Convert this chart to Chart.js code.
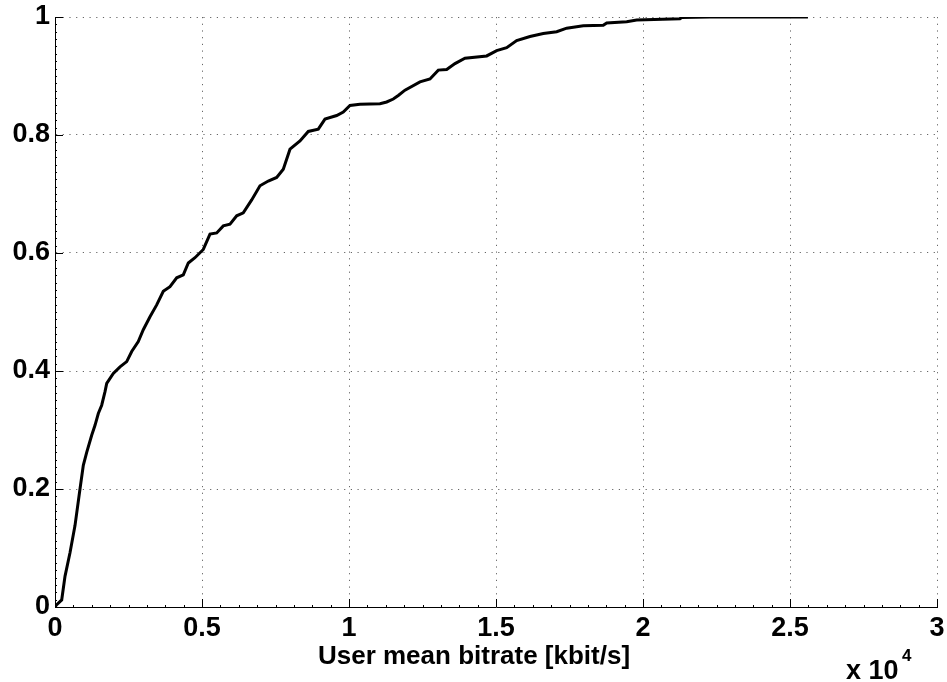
<!DOCTYPE html>
<html>
<head>
<meta charset="utf-8">
<title>User mean bitrate CDF</title>
<script src="https://cdn.jsdelivr.net/npm/chart.js@4/dist/chart.umd.min.js"></script>
<style>
  body { margin: 0; background: #fff; }
  #wrap { width: 947px; height: 682px; }
</style>
</head>
<body>
<div id="wrap"><canvas id="myChart" width="947" height="682"></canvas></div>
<script>
const bitrate = [0, 58, 228, 340, 510, 680, 850, 963, 1078, 1248, 1361, 1473, 1588, 1701, 1759,
    1983, 2211, 2439, 2609, 2833, 3003, 3231, 3459, 3683, 3911, 4139, 4364, 4534, 4761, 5044,
    5272, 5500, 5724, 5952, 6180, 6404, 6690, 6972, 7254, 7540, 7765, 7993, 8333, 8615, 8955,
    9183, 9581, 9805, 10033, 10373, 11053, 11281, 11506, 11676, 11904, 12414, 12755, 13037,
    13323, 13605, 13945, 14683, 15023, 15363, 15703, 16156, 16608, 17064, 17404, 17969, 18649,
    18765, 19445, 19785, 21258, 21316, 22277, 25610];
const cdf = [0, 0.004, 0.012, 0.052, 0.092, 0.138, 0.2, 0.24, 0.262, 0.291, 0.308, 0.328, 0.342, 0.365, 0.379,
    0.396, 0.407, 0.416, 0.433, 0.45, 0.47, 0.492, 0.512, 0.535, 0.543, 0.558, 0.563, 0.583, 0.592, 0.606,
    0.632, 0.634, 0.646, 0.649, 0.663, 0.668, 0.69, 0.714, 0.722, 0.728, 0.742, 0.776, 0.79, 0.806, 0.81,
    0.827, 0.833, 0.839, 0.85, 0.852, 0.853, 0.856, 0.861, 0.867, 0.876, 0.89, 0.895, 0.91,
    0.911, 0.921, 0.93, 0.934, 0.943, 0.948, 0.96, 0.967, 0.972, 0.975, 0.981, 0.985, 0.986,
    0.99, 0.992, 0.995, 0.997, 0.999, 1.0, 1.0];

const xTickLabels = ['0', '0.5', '1', '1.5', '2', '2.5', '3'];
const yTickLabels = ['0', '0.2', '0.4', '0.6', '0.8', '1'];
const xTitle = 'User mean bitrate [kbit/s]';

const FONT = '"Liberation Sans", Arial, Helvetica, sans-serif';

// inward major/minor ticks like matlab, the axis label and the "x 10^4" multiplier
const axisDecor = {
    id: 'axisDecor',
    afterDraw(chart) {
        const ctx = chart.ctx;
        const a = chart.chartArea;
        const xs = chart.scales.x, ys = chart.scales.y;
        ctx.save();
        ctx.strokeStyle = '#000';
        ctx.lineWidth = 1;
        ctx.beginPath();
        for (let v = 0; v <= 30000; v += 625) {
            const px = Math.round(xs.getPixelForValue(v)) + 0.5;
            const len = v % 5000 === 0 ? 8 : 2;
            ctx.moveTo(px, a.bottom);
            ctx.lineTo(px, a.bottom - len);
        }
        for (let i = 0; i <= 80; i++) {
            const v = i * 0.0125;
            const py = Math.round(ys.getPixelForValue(v)) + 0.5;
            const len = i % 16 === 0 ? 8 : 2;
            ctx.moveTo(a.left, py);
            ctx.lineTo(a.left + len, py);
        }
        ctx.stroke();

        ctx.fillStyle = '#000';
        ctx.textAlign = 'center';
        ctx.textBaseline = 'middle';
        ctx.font = 'bold 26px ' + FONT;
        ctx.fillText(xTitle, 474, 657);

        ctx.textAlign = 'left';
        ctx.textBaseline = 'alphabetic';
        ctx.font = 'bold 27px ' + FONT;
        ctx.fillText('x 10', 846, 679);
        ctx.font = 'bold 17px ' + FONT;
        ctx.fillText('4', 902, 661);
        ctx.restore();
    }
};

let myChart;
function chart() {
    var ctx = document.getElementById('myChart');
    if (myChart) {
        myChart.destroy();
    }
    myChart = new Chart(ctx, {
        type: 'scatter',
        data: {
            datasets: [{
                label: 'CDF',
                data: bitrate.map((b, i) => ({x: b, y: cdf[i]})),
                showLine: true,
                borderColor: '#000',
                borderWidth: 3,
                pointRadius: 0,
                tension: 0,
                fill: false
            }]
        },
        options: {
            responsive: false,
            animation: false,
            devicePixelRatio: 1,
            layout: {padding: {left: 0, right: 10, top: 17, bottom: 0}},
            plugins: {
                legend: {display: false},
                tooltip: {enabled: false}
            },
            scales: {
                x: {
                    type: 'linear',
                    min: 0,
                    max: 30000,
                    afterBuildTicks: (s) => { s.ticks = xTickLabels.map((t, i) => ({value: i * 5000})); },
                    afterFit: (s) => { s.height = 75; s.paddingLeft = 0; s.paddingRight = 0; },
                    ticks: {
                        callback: (v, i) => xTickLabels[i],
                        color: '#000',
                        font: {family: FONT, size: 27, weight: 'bold'},
                        padding: 5,
                        maxRotation: 0
                    },
                    grid: {color: '#666', lineWidth: 1, drawTicks: false},
                    border: {display: true, color: '#000', width: 1, dash: [1.2, 5.5]}
                },
                y: {
                    type: 'linear',
                    min: 0,
                    max: 1,
                    afterBuildTicks: (s) => { s.ticks = yTickLabels.map((t, i) => ({value: i * 0.2})); },
                    afterFit: (s) => { s.width = 55; s.paddingTop = 0; s.paddingBottom = 0; },
                    ticks: {
                        callback: (v, i) => yTickLabels[i],
                        color: '#000',
                        font: {family: FONT, size: 27, weight: 'bold'},
                        padding: 5
                    },
                    grid: {color: '#666', lineWidth: 1, drawTicks: false},
                    border: {display: true, color: '#000', width: 1, dash: [1.2, 5.5]}
                }
            }
        },
        plugins: [axisDecor]
    });
}

chart();
</script>
</body>
</html>
